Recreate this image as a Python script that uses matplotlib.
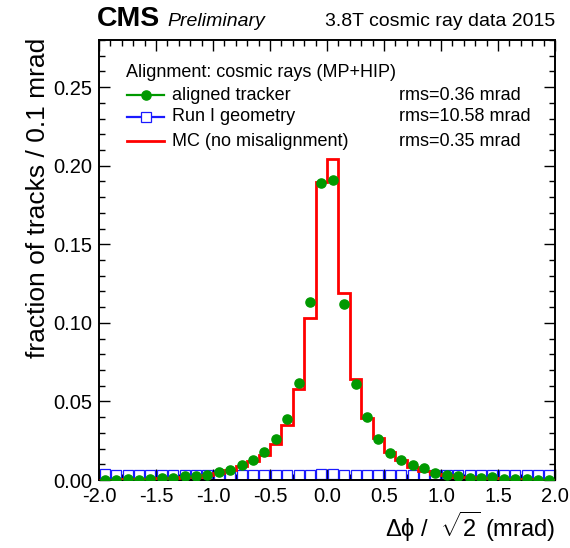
import numpy as np
import matplotlib
matplotlib.use("Agg")
import matplotlib.pyplot as plt
from matplotlib.ticker import MultipleLocator, FormatStrFormatter

plt.rcParams['font.family'] = ['Liberation Sans', 'DejaVu Sans']
plt.rcParams['mathtext.fontset'] = 'custom'
plt.rcParams['mathtext.rm'] = 'Liberation Sans'
plt.rcParams['mathtext.it'] = 'Liberation Sans:italic'
plt.rcParams['mathtext.bf'] = 'Liberation Sans:bold'

# ---- data ----
bin_edges = np.round(np.arange(-2.0, 2.0001, 0.1), 2)
bin_centers = np.round((bin_edges[:-1] + bin_edges[1:]) / 2, 3)

aligned_tracker = [0.0003, 0.0003, 0.0005, 0.0003, 0.0008, 0.0015, 0.0015, 0.0025, 0.0025, 0.0035,
                   0.0048, 0.0066, 0.0096, 0.0130, 0.0180, 0.0260, 0.0390, 0.0620, 0.1130, 0.1890,
                   0.1910, 0.1120, 0.0610, 0.0400, 0.0260, 0.0170, 0.0125, 0.0096, 0.0075, 0.0045,
                   0.0035, 0.0025, 0.0015, 0.0015, 0.0020, 0.0004, 0.0004, 0.0004, 0.0003, 0.0003]

run1_geometry = [0.0036, 0.0033, 0.0032, 0.0032, 0.0031, 0.0033, 0.0032, 0.0031, 0.0032, 0.0031,
                 0.0032, 0.0033, 0.0032, 0.0031, 0.0032, 0.0031, 0.0031, 0.0032, 0.0032, 0.0037,
                 0.0037, 0.0032, 0.0031, 0.0032, 0.0031, 0.0032, 0.0031, 0.0032, 0.0032, 0.0031,
                 0.0032, 0.0033, 0.0031, 0.0032, 0.0033, 0.0032, 0.0031, 0.0033, 0.0032, 0.0033]

mc_no_misalignment = [0.0003, 0.0003, 0.0004, 0.0005, 0.0008, 0.0010, 0.0013, 0.0016, 0.0022, 0.0033,
                      0.0045, 0.0064, 0.0090, 0.0120, 0.0160, 0.0230, 0.0350, 0.0578, 0.1030, 0.1896,
                      0.2045, 0.1187, 0.0643, 0.0397, 0.0265, 0.0180, 0.0127, 0.0085, 0.0055, 0.0040,
                      0.0030, 0.0022, 0.0018, 0.0012, 0.0010, 0.0007, 0.0005, 0.0004, 0.0003, 0.0003]

legend_header = "Alignment: cosmic rays (MP+HIP)"
series_labels = ["aligned tracker", "Run I geometry", "MC (no misalignment)"]
rms_labels = ["rms=0.36 mrad", "rms=10.58 mrad", "rms=0.35 mrad"]

GREEN = "#009900"
BLUE = "#1a1aff"
RED = "#ff0000"

W, H = 570, 548
fig = plt.figure(figsize=(W / 100, H / 100), dpi=100)
L, R, T, B = 99, 555, 40, 480
ax = fig.add_axes([L / W, 1 - B / H, (R - L) / W, (B - T) / H])

ax.stairs(mc_no_misalignment, bin_edges, color=RED, linewidth=2.0, zorder=3)
ax.plot(bin_centers, run1_geometry, linestyle='none', marker='s', markersize=7.0,
        markerfacecolor='white', markeredgecolor=BLUE, markeredgewidth=0.9, zorder=2)
ax.plot(bin_centers, aligned_tracker, linestyle='none', marker='o', markersize=6.6,
        color=GREEN, zorder=4)

ax.set_xlim(-2.0, 2.0)
ax.set_ylim(0, 0.28)
ax.xaxis.set_major_locator(MultipleLocator(0.5))
ax.xaxis.set_minor_locator(MultipleLocator(0.1))
ax.yaxis.set_major_locator(MultipleLocator(0.05))
ax.yaxis.set_minor_locator(MultipleLocator(0.01))
ax.xaxis.set_major_formatter(FormatStrFormatter('%.1f'))
ax.yaxis.set_major_formatter(FormatStrFormatter('%.2f'))
ax.tick_params(which='both', direction='in', top=True, right=True, labelsize=14.5, width=1.0)
ax.tick_params(which='major', length=8, pad=5)
ax.tick_params(which='minor', length=4)
for s in ax.spines.values():
    s.set_linewidth(1.4)

def fx(px):
    return px / W

def fy(py):
    return 1 - py / H

# axis titles
fig.text(fx(38), fy(38), "fraction of tracks / 0.1 mrad", rotation=90,
         ha='center', va='top', fontsize=19)
fig.text(fx(555), fy(527), r"Δϕ /  $\sqrt{2}$ (mrad)", ha='right', va='center', fontsize=17)

# header
fig.text(fx(97), fy(19), "CMS", fontweight='bold', fontsize=20.5, ha='left', va='center')
fig.text(fx(167), fy(21), "Preliminary", fontstyle='italic', fontsize=14, ha='left', va='center')
fig.text(fx(555), fy(21), "3.8T cosmic ray data 2015", fontsize=14, ha='right', va='center')

# legend
fig.text(fx(126), fy(72), legend_header, fontsize=13, ha='left', va='center')
rows_y = [95, 117, 141]
styles = [dict(color=GREEN, marker='o', markersize=6.6, linewidth=1.6),
          dict(color=BLUE, marker='s', markersize=6.6, markerfacecolor='white',
               markeredgecolor=BLUE, markeredgewidth=0.9, linewidth=1.6),
          dict(color=RED, marker=None, linewidth=2.0)]
for py, lab, rms, st in zip(rows_y, series_labels, rms_labels, styles):
    fig.add_artist(plt.Line2D([fx(127), fx(164)], [fy(py), fy(py)], transform=fig.transFigure,
                              **{k: v for k, v in st.items() if not k.startswith('marker')}))
    if st.get('marker'):
        fig.add_artist(plt.Line2D([fx(146)], [fy(py)], transform=fig.transFigure, linestyle='none',
                                  **{k: v for k, v in st.items() if k != 'linewidth'}))
    fig.text(fx(172), fy(py), lab, fontsize=13, ha='left', va='center')
    fig.text(fx(399), fy(py), rms, fontsize=13, ha='left', va='center')

fig.savefig("out.png", dpi=100)
